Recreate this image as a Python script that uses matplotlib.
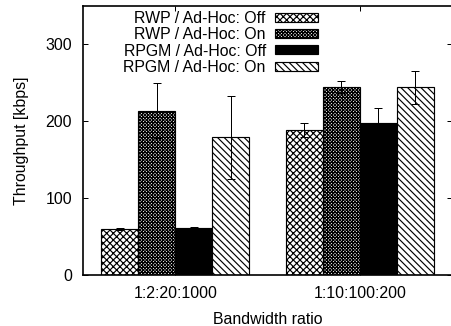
import matplotlib
matplotlib.use('Agg')
import matplotlib.pyplot as plt
import numpy as np

plt.rcParams['font.family'] = ['Liberation Sans', 'DejaVu Sans']
plt.rcParams['font.size'] = 9.5
plt.rcParams['hatch.linewidth'] = 0.7

# data
groups = ["1:2:20:1000", "1:10:100:200"]
series = ["RWP / Ad-Hoc: Off", "RWP / Ad-Hoc: On", "RPGM / Ad-Hoc: Off", "RPGM / Ad-Hoc: On"]
values = [
    [60, 189],
    [214, 245],
    [61, 198],
    [179, 244],
]
errors = [
    [1, 9],
    [36, 8],
    [2, 19],
    [54, 21],
]
hatches = ['xxxxxx', 'xxxxxxxxxxxx', '', '\\\\\\\\\\\\']
facecolors = ['white', 'white', 'black', 'white']

fig = plt.figure(figsize=(451 / 120, 326 / 120), dpi=120)
ax = fig.add_axes([83 / 451, 51 / 326, 369 / 451, 269 / 326])

x = np.arange(len(groups))
w = 0.2
for i, name in enumerate(series):
    pos = x + (i - 1.5) * w
    ax.bar(pos, values[i], w, color=facecolors[i], edgecolor='black',
           hatch=hatches[i], linewidth=0.7, label=name, zorder=2)
    ax.errorbar(pos, values[i], yerr=errors[i], fmt='none', ecolor='black',
                elinewidth=0.6, capsize=2.5, capthick=0.6, zorder=3)

ax.set_xlim(-0.5, 1.5)
ax.set_ylim(0, 350)
ax.set_yticks([0, 100, 200, 300])
ax.set_xticks(x)
ax.set_xticklabels(groups)
ax.tick_params(direction='in', top=True, right=True, length=3, width=0.6)
ax.tick_params(axis='y', pad=6.6)
ax.tick_params(axis='x', pad=6.5)
for s in ax.spines.values():
    s.set_linewidth(1.0)

ax.set_xlabel("Bandwidth ratio", labelpad=7)
ax.set_ylabel("Throughput [kbps]", labelpad=10)

ax.legend(loc='upper right', bbox_to_anchor=(318 / 451, 1 - 11 / 326),
          bbox_transform=fig.transFigure, frameon=False, markerfirst=False,
          handlelength=2.7, handleheight=0.5, labelspacing=0.08,
          handletextpad=0.6, borderpad=0, borderaxespad=0)

fig.savefig('out.png', dpi=120)
